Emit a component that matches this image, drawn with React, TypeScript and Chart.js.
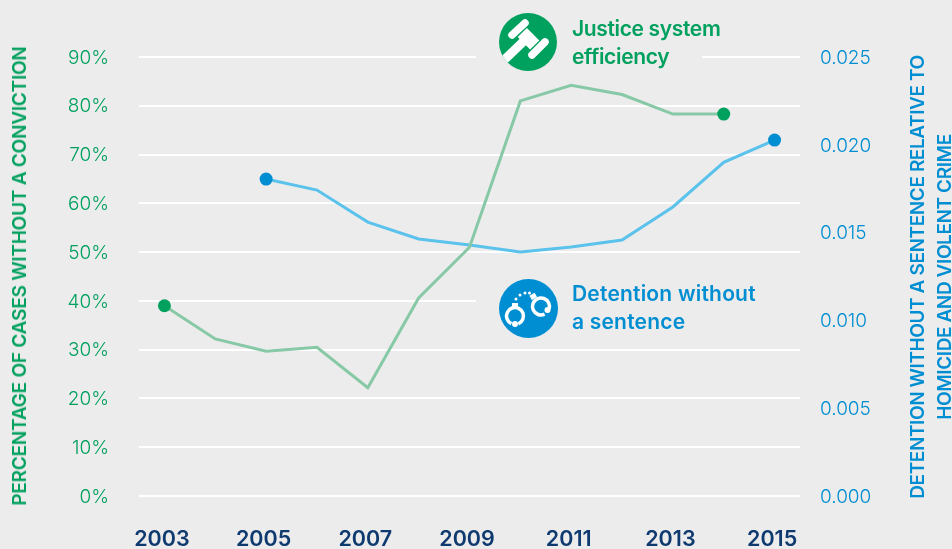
import React, { useEffect, useRef } from "react";
import { Chart, registerables } from "chart.js";

Chart.register(...registerables);

const years = ["2003","2004","2005","2006","2007","2008","2009","2010","2011","2012","2013","2014","2015"];
const justiceEfficiency = [39, 32.2, 29.7, 30.5, 22.2, 40.6, 51, 81, 84.2, 82.3, 78.3, 78.3, null];
const detentionWithoutSentence = [null, null, 0.01805, 0.01742, 0.0156, 0.01464, 0.01429, 0.0139, 0.01418, 0.01458, 0.01646, 0.019, 0.02027];
const leftTitle = "PERCENTAGE OF CASES WITHOUT A CONVICTION";
const rightTitleLines = ["DETENTION WITHOUT A SENTENCE RELATIVE TO", "HOMICIDE AND VIOLENT CRIME"];

const BG = "#ececec";
const GREEN = "#00a05e";
const GREEN_LINE = "#87c9a6";
const BLUE = "#008ed2";
const BLUE_LINE = "#5bc2ec";
const NAVY = "#0f3a70";
const FONT = "Inter, 'Noto Sans', sans-serif";

function endpointRadius(values: (number | null)[]) {
  const present = values.map((v, i) => (v === null ? -1 : i)).filter((i) => i >= 0);
  const first = present[0];
  const last = present[present.length - 1];
  return (ctx: any) => (ctx.dataIndex === first || ctx.dataIndex === last ? 6.5 : 0);
}

function VerticalTitle({ text, centerX, centerY, color, spacing }: { text: string; centerX: number; centerY: number; color: string; spacing: number }) {
  return (
    <div
      style={{
        position: "absolute",
        left: centerX,
        top: centerY,
        transform: "translate(-50%, -50%) rotate(-90deg)",
        fontFamily: FONT,
        fontSize: 19,
        fontWeight: 600,
        letterSpacing: spacing,
        color,
        whiteSpace: "nowrap",
        lineHeight: "22px",
      }}
    >
      {text}
    </div>
  );
}

export default function App() {
  const ref = useRef<HTMLCanvasElement>(null);
  useEffect(() => {
    document.body.style.margin = "0";
    document.body.style.background = BG;
    const chart = new Chart(ref.current!, {
      type: "line",
      data: {
        labels: years,
        datasets: [
          {
            data: justiceEfficiency,
            yAxisID: "y",
            borderColor: GREEN_LINE,
            borderWidth: 3,
            pointBackgroundColor: GREEN,
            pointBorderWidth: 0,
            pointRadius: endpointRadius(justiceEfficiency),
            tension: 0,
          },
          {
            data: detentionWithoutSentence,
            yAxisID: "y2",
            borderColor: BLUE_LINE,
            borderWidth: 3,
            pointBackgroundColor: BLUE,
            pointBorderWidth: 0,
            pointRadius: endpointRadius(detentionWithoutSentence),
            tension: 0,
          },
        ],
      },
      options: {
        animation: false,
        responsive: false,
        layout: { padding: { top: 57, bottom: 0, left: 0, right: 0 } },
        plugins: { legend: { display: false }, tooltip: { enabled: false } },
        scales: {
          x: {
            offset: true,
            grid: { display: false },
            border: { display: false },
            afterFit: (s: any) => { s.height = 53; },
            ticks: {
              autoSkip: false,
              maxRotation: 0,
              padding: 23,
              labelOffset: -2.5,
              color: NAVY,
              font: { family: FONT, size: 21.5, weight: 600 },
              callback: (_v: any, i: number) => (i % 2 === 0 ? years[i] : ""),
            },
          },
          y: {
            position: "left",
            min: 0,
            max: 90,
            afterFit: (s: any) => { s.width = 139; },
            grid: { color: "#ffffff", lineWidth: 2, drawTicks: false },
            border: { display: false },
            ticks: {
              stepSize: 10,
              padding: 30,
              labelOffset: 1,
              color: GREEN,
              font: { family: FONT, size: 19, weight: 300 },
              callback: (v: any) => `${v}%`,
            },
          },
          y2: {
            position: "right",
            min: 0,
            max: 0.025,
            afterFit: (s: any) => { s.width = 152; },
            grid: { display: false, drawTicks: false },
            border: { display: false },
            ticks: {
              stepSize: 0.005,
              padding: 20,
              labelOffset: 1,
              color: BLUE,
              font: { family: FONT, size: 19, weight: 300 },
              callback: (v: any) => Number(v).toFixed(3),
            },
          },
        },
      },
    });
    return () => chart.destroy();
  }, []);

  const labelStyle: React.CSSProperties = {
    position: "absolute",
    fontFamily: FONT,
    fontSize: 21,
    fontWeight: 600,
    lineHeight: "28px",
    whiteSpace: "nowrap",
  };

  return (
    <div style={{ position: "absolute", left: 0, top: 0, width: 952, height: 549, background: BG, overflow: "hidden" }}>
      <canvas ref={ref} width={952} height={549} style={{ position: "absolute", left: 0, top: 0 }} />
      <div style={{ position: "absolute", left: 476, top: 50, width: 226, height: 14, background: BG }} />
      <div style={{ position: "absolute", left: 476, top: 294, width: 326, height: 14, background: BG }} />
      <VerticalTitle text={leftTitle} centerX={19.5} centerY={275.5} color={GREEN} spacing={-0.22} />
      <VerticalTitle text={rightTitleLines[0]} centerX={918} centerY={277} color={BLUE} spacing={-0.4} />
      <VerticalTitle text={rightTitleLines[1]} centerX={945} centerY={277} color={BLUE} spacing={-0.4} />
      <svg style={{ position: "absolute", left: 499, top: 13 }} width={58} height={58} viewBox="0 0 58 58">
        <defs>
          <clipPath id="gavelClip"><circle cx="29" cy="29" r="29" /></clipPath>
        </defs>
        <circle cx="29" cy="29" r="29" fill={GREEN} />
        <g stroke="#fff" fill="none" clipPath="url(#gavelClip)">
          <line x1="3" y1="49" x2="27" y2="26" strokeWidth="9" />
          <line x1="23.3" y1="19.5" x2="35.7" y2="32" strokeWidth="13" />
          <line x1="13" y1="22" x2="26" y2="10" strokeWidth="7.5" strokeLinecap="round" />
          <line x1="33" y1="42" x2="46" y2="29" strokeWidth="7.5" strokeLinecap="round" />
        </g>
      </svg>
      <div style={{ ...labelStyle, left: 572, top: 15, color: GREEN, letterSpacing: -0.35 }}>Justice system<br />efficiency</div>
      <svg style={{ position: "absolute", left: 499, top: 279 }} width={59} height={59} viewBox="0 0 59 59">
        <circle cx="29.5" cy="29.5" r="29.5" fill={BLUE} />
        <g fill="none" stroke="#fff" strokeWidth="3.5">
          <circle cx="16" cy="37" r="8.5" strokeDasharray="46 7.4" transform="rotate(115 16 37)" />
          <circle cx="42" cy="27.5" r="8.5" strokeDasharray="46 7.4" transform="rotate(65 42 27.5)" />
        </g>
        <g fill="#fff">
          <rect x="13" y="24" width="6" height="5" />
          <rect x="31" y="15" width="6" height="5" transform="rotate(-30 34 17)" />
          <circle cx="17" cy="20" r="1.5" /><circle cx="21" cy="16" r="1.5" /><circle cx="26" cy="14" r="1.5" /><circle cx="30.5" cy="14" r="1.5" />
          <circle cx="48.5" cy="31" r="3" /><circle cx="16" cy="45" r="3" />
        </g>
      </svg>
      <div style={{ ...labelStyle, left: 572, top: 280, color: BLUE, letterSpacing: 0.2 }}>Detention without<br />a sentence</div>
    </div>
  );
}
